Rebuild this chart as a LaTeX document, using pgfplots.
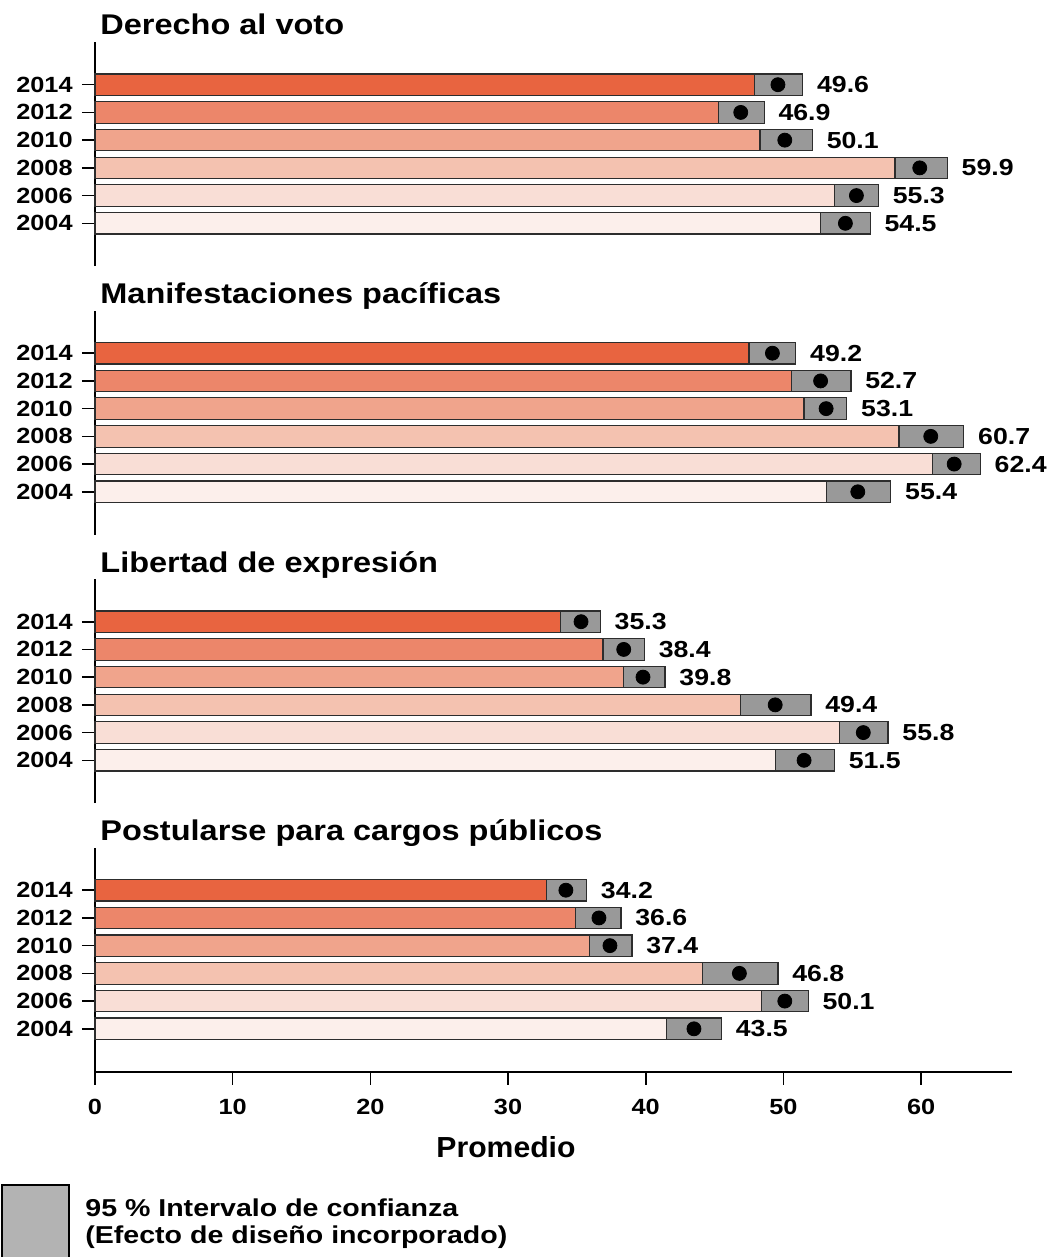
\documentclass[border=0pt]{standalone}
\usepackage{pgfplots}
\pgfplotsset{compat=1.18}
\usepackage{pgfplotstable}
\usepackage{fontspec}
\setmainfont{Liberation Sans}
\newfontfamily\fS[FakeStretch=1.15]{Liberation Sans}
\newfontfamily\fP[FakeStretch=1.04]{Liberation Sans}
\newfontfamily\fL[FakeStretch=1.17]{Liberation Sans}
\newfontfamily\fT[FakeStretch=1.14]{Liberation Sans}

\definecolor{yc5}{RGB}{232,100,64}
\definecolor{yc4}{RGB}{236,134,106}
\definecolor{yc3}{RGB}{240,164,140}
\definecolor{yc2}{RGB}{244,194,176}
\definecolor{yc1}{RGB}{249,222,214}
\definecolor{yc0}{RGB}{252,239,235}
\definecolor{cigray}{RGB}{153,153,153}
\definecolor{leggray}{RGB}{179,179,179}
\definecolor{edge}{RGB}{45,45,45}

% pos: 0=2004 ... 5=2014 ; mean, lower and upper 95% CI
\pgfplotstableread{
pos mean lo hi
0 54.5 52.7 56.3
1 55.3 53.7 56.9
2 59.9 58.1 61.9
3 50.1 48.3 52.1
4 46.9 45.3 48.6
5 49.6 47.9 51.4
}\tabA
\pgfplotstableread{
pos mean lo hi
0 55.4 53.1 57.8
1 62.4 60.8 64.3
2 60.7 58.4 63.1
3 53.1 51.5 54.6
4 52.7 50.6 54.9
5 49.2 47.5 50.9
}\tabB
\pgfplotstableread{
pos mean lo hi
0 51.5 49.4 53.7
1 55.8 54.1 57.6
2 49.4 46.9 52.0
3 39.8 38.4 41.4
4 38.4 36.9 39.9
5 35.3 33.8 36.7
}\tabC
\pgfplotstableread{
pos mean lo hi
0 43.5 41.5 45.5
1 50.1 48.4 51.8
2 46.8 44.1 49.6
3 37.4 35.9 39.0
4 36.6 34.9 38.2
5 34.2 32.8 35.7
}\tabD

\pgfplotsset{
  panel/.style={
    scale only axis, width=458.5pt, height=112pt,
    xmin=0, xmax=66.6, ymin=-1.54, ymax=6.54,
    axis y line*=left,
    ytick={0,...,5}, yticklabels={2004,2006,2008,2010,2012,2014},
    tick align=outside, major tick length=6.5pt,
    axis line style={-, line width=1pt, black},
    tick style={line width=0.8pt, black},
    yticklabel style={font=\fS\bfseries\fontsize{11}{13}\selectfont, inner sep=0pt, xshift=-4.5pt},
    clip=false, anchor=south west,
  },
}

\newcommand{\panelbody}[1]{%
  \addplot[xbar, bar width=10.75pt, bar shift=0pt, fill=cigray, draw=edge, line width=0.6pt]
     table[x=hi, y=pos]{#1};
  \pgfplotsinvokeforeach{0,...,5}{%
    \addplot[xbar, bar width=10.75pt, bar shift=0pt, fill=yc##1, draw=edge, line width=0.6pt]
       table[x=lo, y=pos, restrict expr to domain={\coordindex}{##1:##1}]{#1};
  }
  \addplot[only marks, mark=*, mark size=3.5pt, mark options={fill=black, draw=black}]
     table[x=mean, y=pos]{#1};
  \addplot[only marks, mark=none, nodes near coords, point meta=explicit symbolic,
     every node near coord/.style={anchor=west, inner sep=0pt, xshift=7pt, text=black,
        font=\fS\bfseries\fontsize{11.6}{14}\selectfont}]
     table[x=hi, y=pos, meta=mean]{#1};
}

\begin{document}
\begin{tikzpicture}
\path[use as bounding box] (0,0) rectangle (526.5pt,-628.5pt);

\begin{axis}[panel, at={(47.5pt,-133pt)}, axis x line=none]
\panelbody{\tabA}
\end{axis}

\begin{axis}[panel, at={(47.5pt,-267.25pt)}, axis x line=none]
\panelbody{\tabB}
\end{axis}

\begin{axis}[panel, at={(47.5pt,-401.5pt)}, axis x line=none]
\panelbody{\tabC}
\end{axis}

\begin{axis}[panel, at={(47.5pt,-535.75pt)}, axis x line*=bottom,
   xtick={0,10,...,60},
   xticklabel style={font=\fS\bfseries\fontsize{11}{13}\selectfont, inner sep=0pt, yshift=-7pt},
   /pgf/number format/assume math mode=true]
\panelbody{\tabD}
\end{axis}

\begin{scope}[x=0.5pt, y=-0.5pt]
\node[anchor=base west, inner sep=0pt, font=\fT\bfseries\fontsize{14.25}{17}\selectfont] at (100,35) {Derecho al voto};
\node[anchor=base west, inner sep=0pt, font=\fT\bfseries\fontsize{14.25}{17}\selectfont] at (100,303.5) {Manifestaciones pacíficas};
\node[anchor=base west, inner sep=0pt, font=\fT\bfseries\fontsize{14.25}{17}\selectfont] at (100,572) {Libertad de expresión};
\node[anchor=base west, inner sep=0pt, font=\fT\bfseries\fontsize{14.25}{17}\selectfont] at (100,840.5) {Postularse para cargos públicos};
\node[anchor=base, inner sep=0pt, font=\fP\bfseries\fontsize{14.5}{17}\selectfont] at (506,1157) {Promedio};
\draw[fill=leggray, draw=black, line width=0.75pt] (2,1185) rectangle (69,1262);
\node[anchor=base west, inner sep=0pt, font=\fL\bfseries\fontsize{12.2}{14}\selectfont] at (85,1216) {95 \% Intervalo de confianza};
\node[anchor=base west, inner sep=0pt, font=\fL\bfseries\fontsize{12.2}{14}\selectfont] at (85,1243) {(Efecto de diseño incorporado)};
\end{scope}
\end{tikzpicture}
\end{document}
